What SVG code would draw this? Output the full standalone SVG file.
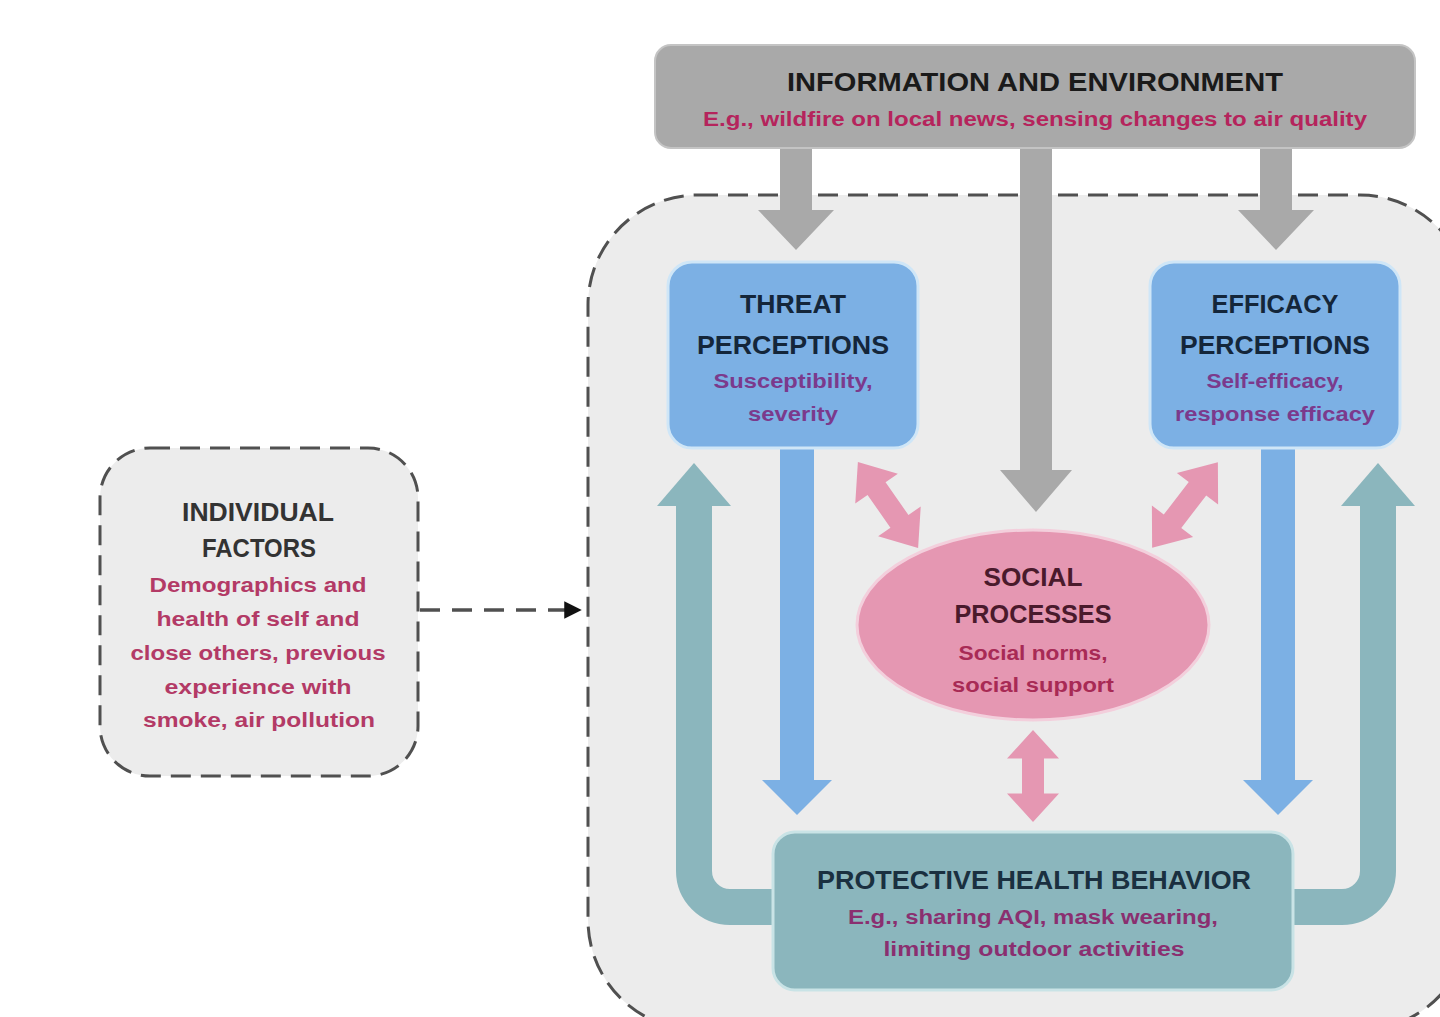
<svg xmlns="http://www.w3.org/2000/svg" width="1440" height="1017" viewBox="0 0 1440 1017">
  <style>
    text { font-family: "Liberation Sans", Arial, sans-serif; font-weight: bold; text-anchor: middle; }
    .t { font-size: 26px; }
    .s { font-size: 20px; }
    .dash { fill: #ececec; stroke: #505050; stroke-width: 3; stroke-dasharray: 20 10; }
    .grey { fill: #a9a9a9; }
    .blue { fill: #7cb0e4; }
    .teal { fill: #8bb6bd; }
    .pink { fill: #e597b2; }
  </style>
  <defs>
    <!-- double-headed block arrow, 100 long along x, centred on origin -->
    <path id="dbl" d="M -50 0 L -19 -26 L -19 -11 L 19 -11 L 19 -26 L 50 0 L 19 26 L 19 11 L -19 11 L -19 26 Z"/>
    <marker id="tip" viewBox="0 0 10 10" refX="9" refY="5" markerWidth="5" markerHeight="5" orient="auto" markerUnits="strokeWidth">
      <path d="M0 0 L10 5 L0 10 Z" fill="#111"/>
    </marker>
  </defs>

  <rect width="1440" height="1017" fill="#ffffff"/>

  <!-- outer dashed frame holding the model -->
  <rect id="frame" class="dash" x="588" y="195" width="882" height="835" rx="110" ry="110"/>

  <!-- connectors -->
  <g id="connectors">
    <!-- information feeds -->
    <path class="grey" d="M780 146 H812 V210 H834 L796 250 L758 210 H780 Z"/>
    <path class="grey" d="M1020 146 H1052 V470 H1072 L1036 512 L1000 470 H1020 Z"/>
    <path class="grey" d="M1260 146 H1292 V210 H1314 L1276 250 L1238 210 H1260 Z"/>
    <!-- perceptions down to behavior -->
    <path class="blue" d="M780 446 H814 V780 H832 L797 815 L762 780 H780 Z"/>
    <path class="blue" d="M1261 446 H1295 V780 H1313 L1278 815 L1243 780 H1261 Z"/>
    <!-- behavior feedback loops -->
    <path d="M790 907 H730 A36 36 0 0 1 694 871 V500" fill="none" stroke="#8bb6bd" stroke-width="36"/>
    <path class="teal" d="M657 506 L694 463 L731 506 Z"/>
    <path d="M1280 907 H1342 A36 36 0 0 0 1378 871 V500" fill="none" stroke="#8bb6bd" stroke-width="36"/>
    <path class="teal" d="M1341 506 L1378 463 L1415 506 Z"/>
    <!-- social exchanges -->
    <use href="#dbl" class="pink" transform="translate(888 505) rotate(55) scale(1.05 1)"/>
    <use href="#dbl" class="pink" transform="translate(1185 505) rotate(-52.5) scale(1.08 1)"/>
    <use href="#dbl" class="pink" transform="translate(1033 776) rotate(90) scale(0.92 1)"/>
    <!-- individual factors into the model -->
    <line x1="420" y1="610" x2="580" y2="610" stroke="#505050" stroke-width="3.5" stroke-dasharray="20 12" marker-end="url(#tip)"/>
  </g>

  <g id="info">
    <rect x="655" y="45" width="760" height="103" rx="16" fill="#a9a9a9" stroke="#c4c4c4" stroke-width="2"/>
    <text class="t" x="1035" y="91" fill="#1a1a1a" textLength="496" lengthAdjust="spacingAndGlyphs">INFORMATION AND ENVIRONMENT</text>
    <text class="s" x="1035" y="126" fill="#b5245c" textLength="664" lengthAdjust="spacingAndGlyphs">E.g., wildfire on local news, sensing changes to air quality</text>
  </g>

  <g id="threat">
    <rect x="668" y="262" width="250" height="186" rx="24" fill="#7cb0e4" stroke="#cfe6f7" stroke-width="3"/>
    <text class="t" x="793" y="313" fill="#14263a" textLength="106" lengthAdjust="spacingAndGlyphs">THREAT</text>
    <text class="t" x="793" y="354" fill="#14263a" textLength="192" lengthAdjust="spacingAndGlyphs">PERCEPTIONS</text>
    <text class="s" x="793" y="388" fill="#7b3a8c" textLength="159" lengthAdjust="spacingAndGlyphs">Susceptibility,</text>
    <text class="s" x="793" y="421" fill="#7b3a8c" textLength="90" lengthAdjust="spacingAndGlyphs">severity</text>
  </g>

  <g id="efficacy">
    <rect x="1150" y="262" width="250" height="186" rx="24" fill="#7cb0e4" stroke="#cfe6f7" stroke-width="3"/>
    <text class="t" x="1275" y="313" fill="#14263a" textLength="127" lengthAdjust="spacingAndGlyphs">EFFICACY</text>
    <text class="t" x="1275" y="354" fill="#14263a" textLength="190" lengthAdjust="spacingAndGlyphs">PERCEPTIONS</text>
    <text class="s" x="1275" y="388" fill="#7b3a8c" textLength="137" lengthAdjust="spacingAndGlyphs">Self-efficacy,</text>
    <text class="s" x="1275" y="421" fill="#7b3a8c" textLength="200" lengthAdjust="spacingAndGlyphs">response efficacy</text>
  </g>

  <g id="social">
    <ellipse cx="1033" cy="625" rx="176" ry="95" fill="#e597b2" stroke="#f3cfdc" stroke-width="3"/>
    <text class="t" x="1033" y="586" fill="#4a1a2c" textLength="99" lengthAdjust="spacingAndGlyphs">SOCIAL</text>
    <text class="t" x="1033" y="623" fill="#4a1a2c" textLength="157" lengthAdjust="spacingAndGlyphs">PROCESSES</text>
    <text class="s" x="1033" y="660" fill="#a82a55" textLength="149" lengthAdjust="spacingAndGlyphs">Social norms,</text>
    <text class="s" x="1033" y="692" fill="#a82a55" textLength="162" lengthAdjust="spacingAndGlyphs">social support</text>
  </g>

  <g id="behavior">
    <rect x="773" y="832" width="520" height="158" rx="22" fill="#8bb6bd" stroke="#c9e3e6" stroke-width="3"/>
    <text class="t" x="1034" y="889" fill="#1a3040" textLength="434" lengthAdjust="spacingAndGlyphs">PROTECTIVE HEALTH BEHAVIOR</text>
    <text class="s" x="1033" y="924" fill="#8a2f70" textLength="370" lengthAdjust="spacingAndGlyphs">E.g., sharing AQI, mask wearing,</text>
    <text class="s" x="1034" y="956" fill="#8a2f70" textLength="301" lengthAdjust="spacingAndGlyphs">limiting outdoor activities</text>
  </g>

  <g id="individual">
    <rect class="dash" x="100" y="448" width="318" height="328" rx="50" ry="50"/>
    <text class="t" x="258" y="521" fill="#333333" textLength="152" lengthAdjust="spacingAndGlyphs">INDIVIDUAL</text>
    <text class="t" x="259" y="557" fill="#333333" textLength="114" lengthAdjust="spacingAndGlyphs">FACTORS</text>
    <text class="s" x="258" y="592" fill="#b33a66" textLength="217" lengthAdjust="spacingAndGlyphs">Demographics and</text>
    <text class="s" x="258" y="626" fill="#b33a66" textLength="203" lengthAdjust="spacingAndGlyphs">health of self and</text>
    <text class="s" x="258" y="660" fill="#b33a66" textLength="255" lengthAdjust="spacingAndGlyphs">close others, previous</text>
    <text class="s" x="258" y="694" fill="#b33a66" textLength="187" lengthAdjust="spacingAndGlyphs">experience with</text>
    <text class="s" x="259" y="727" fill="#b33a66" textLength="232" lengthAdjust="spacingAndGlyphs">smoke, air pollution</text>
  </g>
</svg>
